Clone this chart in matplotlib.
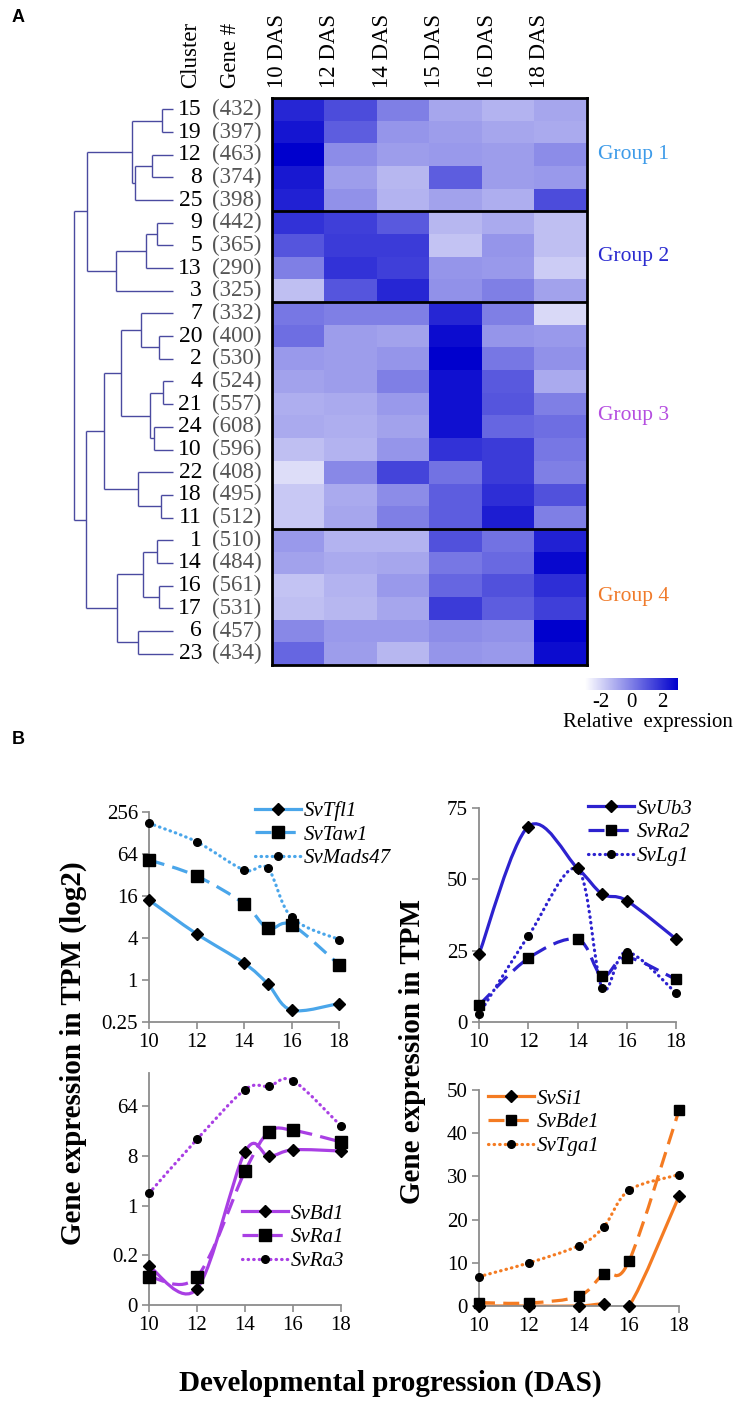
import numpy as np
import matplotlib
matplotlib.use('Agg')
import matplotlib.pyplot as plt
from matplotlib.colors import LinearSegmentedColormap
from matplotlib.path import Path
from matplotlib.patches import PathPatch
from matplotlib.lines import Line2D

plt.rcParams['font.family'] = ['Liberation Serif', 'DejaVu Serif']
plt.rcParams['axes.unicode_minus'] = False

# ---------------- data: panel A ----------------
cluster_ids = [15, 19, 12, 8, 25, 9, 5, 13, 3, 7, 20, 2, 4, 21, 24, 10, 22, 18, 11, 1, 14, 16, 17, 6, 23]
gene_counts = [432, 397, 463, 374, 398, 442, 365, 290, 325, 332, 400, 530, 524, 557, 608, 596,
               408, 495, 512, 510, 484, 561, 531, 457, 434]
timepoints = ['10 DAS', '12 DAS', '14 DAS', '15 DAS', '16 DAS', '18 DAS']
expr = np.array([
    [2.1, 1.2, 0.0, -0.9, -1.2, -0.9],
    [2.5, 0.8, -0.5, -0.7, -0.9, -1.0],
    [3.0, -0.3, -0.7, -0.6, -0.7, -0.3],
    [2.4, -0.7, -1.3, 0.8, -0.7, -0.6],
    [2.2, -0.4, -1.2, -0.8, -1.1, 1.2],
    [1.8, 1.5, 0.9, -1.3, -1.0, -1.5],
    [1.0, 1.6, 1.6, -1.6, -0.5, -1.5],
    [0.0, 1.8, 1.5, -0.5, -0.6, -1.8],
    [-1.5, 1.0, 2.1, -0.4, 0.0, -0.8],
    [0.2, 0.0, 0.0, 2.1, 0.0, -2.1],
    [0.4, -0.7, -0.8, 2.7, -0.5, -0.6],
    [-0.6, -0.7, -0.5, 3.0, 0.2, -0.4],
    [-0.8, -0.7, 0.0, 2.6, 0.9, -1.0],
    [-1.1, -1.0, -0.6, 2.6, 1.0, 0.0],
    [-1.0, -1.1, -0.8, 2.6, 0.6, 0.4],
    [-1.5, -1.2, -0.5, 1.8, 1.6, 0.2],
    [-2.2, -0.2, 1.4, 0.3, 1.6, 0.0],
    [-1.7, -1.0, -0.3, 0.8, 1.9, 1.1],
    [-1.7, -0.9, 0.0, 0.8, 2.3, 0.0],
    [-0.6, -1.2, -1.2, 1.1, 0.3, 2.2],
    [-0.8, -1.0, -0.9, 0.2, 0.5, 2.8],
    [-1.6, -1.2, -0.6, 0.6, 1.1, 1.9],
    [-1.5, -1.3, -0.9, 1.6, 0.8, 1.5],
    [-0.2, -0.6, -0.6, -0.3, -0.4, 3.0],
    [0.6, -0.7, -1.3, -0.5, -0.6, 2.7],
])
group_names = ['Group 1', 'Group 2', 'Group 3', 'Group 4']
group_sizes = [5, 4, 10, 6]
group_colors = ['#3d9be9', '#2b2bd0', '#b54ee0', '#f07b2b']
colorbar_ticks = [-2, 0, 2]

# dendrogram: (merge height, left child, right child); leaves are cluster ids
tree = (99,
        (86,
         (41, (11, 15, 19), (38, (21, 12, 8), 25)),
         (57, (27, (16, 9, 5), 13), 3)),
        (87,
         (69,
          (52, (32, 7, (14, 20, 2)), (23, (10, 4, 21), (19, 24, 10))),
          (35, 22, (12, 18, 11))),
         (56, (30, (16, 1, 14), (14, 16, 17)), (35, 6, 23))))

# ---------------- data: panel B ----------------
das = [10, 12, 14, 15, 16, 18]
tl_names = ['SvTfl1', 'SvTaw1', 'SvMads47']
tl_vals = [[14, 4.6, 1.75, 0.88, 0.37, 0.46],
           [52.7, 31, 12.4, 5.5, 6.2, 1.66],
           [177, 96, 37.8, 40, 7.9, 3.8]]
tr_names = ['SvUb3', 'SvRa2', 'SvLg1']
tr_vals = [[23.8, 68.5, 53.9, 44.9, 42.5, 29.1],
           [5.9, 22.3, 29.0, 16.1, 22.6, 14.9],
           [2.7, 30.1, 53.6, 12.0, 24.6, 10.2]]
bl_names = ['SvBd1', 'SvRa1', 'SvRa3']
bl_vals = [[0.079, 0.031, 9.4, 7.8, 10.3, 9.8],
           [0.051, 0.051, 4.2, 21.7, 23.3, 14.3],
           [1.67, 16, 128, 147, 186, 27.9]]
br_names = ['SvSi1', 'SvBde1', 'SvTga1']
br_vals = [[0, 0, 0, 0.5, 0, 25.4],
           [0.8, 0.7, 2.3, 7.5, 10.4, 45.3],
           [6.8, 10.0, 14.0, 18.4, 26.8, 30.4]]

tl_yticks = [0.25, 1, 4, 16, 64, 256]
tl_ylabels = ['0.25', '1', '4', '16', '64', '256']
bl_yticks = [2**-6, 2**-3, 1, 8, 64]
bl_ylabels = ['0', '0.2', '1', '8', '64']
tr_yticks = [0, 25, 50, 75]
br_yticks = [0, 10, 20, 30, 40, 50]
x_ticks = [10, 12, 14, 16, 18]

# ---------------- figure ----------------
W, H = 736, 1405
fig = plt.figure(figsize=(W / 100, H / 100), dpi=100)


def px_axes(l, t, r, b):
    return fig.add_axes([l / W, 1 - b / H, (r - l) / W, (b - t) / H])


# heatmap
HM_L, HM_T, HM_R, HM_B = 272, 98, 587, 665
ax_hm = px_axes(HM_L, HM_T, HM_R, HM_B)
cmap = LinearSegmentedColormap.from_list('wb', ['#ffffff', '#0000cd'])
im = ax_hm.imshow(expr, cmap=cmap, vmin=-3, vmax=3, aspect='auto', interpolation='nearest')
ax_hm.set_xticks([])
ax_hm.set_yticks([])
for s in ax_hm.spines.values():
    s.set_linewidth(2)
    s.set_color('black')
bounds = np.cumsum(group_sizes)
for b in bounds[:-1]:
    ax_hm.axhline(b - 0.5, color='black', lw=2)

ytr = ax_hm.get_yaxis_transform()
xtr = ax_hm.get_xaxis_transform()
hm_w = HM_R - HM_L
for i, (cid, gc) in enumerate(zip(cluster_ids, gene_counts)):
    ax_hm.text((202 - HM_L) / hm_w, i, str(cid), transform=ytr, ha='right', va='center',
               fontsize=17, color='black')
    ax_hm.text((212 - HM_L) / hm_w, i, '(%d)' % gc, transform=ytr, ha='left', va='center',
               fontsize=16.5, color='#555555')

starts = np.concatenate([[0], bounds[:-1]])
for name, st, sz, col in zip(group_names, starts, group_sizes, group_colors):
    ax_hm.text((598 - HM_L) / hm_w, st + sz / 2 - 0.5, name, transform=ytr, ha='left',
               va='center', fontsize=15.5, color=col)

ylab = 1 + (HM_T - 88) / (HM_B - HM_T)
for i, t in enumerate(timepoints):
    ax_hm.text(i - 0.4, ylab, t, transform=xtr, rotation=90, ha='center', va='bottom', fontsize=16.5)
ax_hm.text((191 - HM_L) / hm_w, ylab, 'Cluster', transform=ax_hm.transAxes, rotation=90,
           ha='center', va='bottom', fontsize=16.5)
ax_hm.text((230 - HM_L) / hm_w, ylab, 'Gene #', transform=ax_hm.transAxes, rotation=90,
           ha='center', va='bottom', fontsize=16.5)

# dendrogram
ax_dn = px_axes(73, HM_T, 173, HM_B)
ax_dn.set_xlim(100, 0)
ax_dn.set_ylim(len(cluster_ids) - 0.5, -0.5)
ax_dn.axis('off')
dcol = '#4a4aa0'
pos = {c: i for i, c in enumerate(cluster_ids)}


def draw(node):
    if not isinstance(node, tuple):
        return pos[node], 0
    h, a, b = node
    ya, ha = draw(a)
    yb, hb = draw(b)
    kw = dict(color=dcol, lw=1.0, clip_on=False, solid_capstyle='butt')
    ax_dn.plot([ha, h], [ya, ya], **kw)
    ax_dn.plot([hb, h], [yb, yb], **kw)
    ax_dn.plot([h, h], [ya, yb], **kw)
    return (ya + yb) / 2, h


draw(tree)

# colorbar
cax = px_axes(585, 678, 678, 690)
cb = fig.colorbar(im, cax=cax, orientation='horizontal', ticks=colorbar_ticks)
cb.outline.set_visible(False)
cax.tick_params(length=0, labelsize=15, pad=2)
fig.text(648 / W, 1 - 722 / H, 'Relative  expression', ha='center', va='center', fontsize=15)

fig.text(12 / W, 1 - 18 / H, 'A', fontsize=13, fontweight='bold', family='Liberation Sans',
         ha='left', va='center')
fig.text(12 / W, 1 - 740 / H, 'B', fontsize=13, fontweight='bold', family='Liberation Sans',
         ha='left', va='center')


# ---------------- panel B ----------------
def smooth_path(xs, ys, logy=False):
    X = np.asarray(xs, float)
    Y = np.log2(np.asarray(ys, float)) if logy else np.asarray(ys, float)
    P = np.column_stack([X, Y])
    n = len(P)
    verts = [P[0]]
    codes = [Path.MOVETO]
    for i in range(n - 1):
        p0 = P[i - 1] if i > 0 else P[i]
        p1, p2 = P[i], P[i + 1]
        p3 = P[i + 2] if i + 2 < n else P[i + 1]
        verts += [p1 + (p2 - p0) / 6, p2 - (p3 - p1) / 6, p2]
        codes += [Path.CURVE4] * 3
    V = np.array(verts)
    if logy:
        V[:, 1] = 2 ** V[:, 1]
    return Path(V, codes)


styles = ['-', (0, (5, 2.6)), (0, (0.15, 1.6))]
markers = ['D', 's', 'o']


def style_axes(ax):
    for s in ['top', 'right']:
        ax.spines[s].set_visible(False)
    for s in ['left', 'bottom']:
        ax.spines[s].set_color('#8c8c8c')
        ax.spines[s].set_linewidth(1.3)
    ax.tick_params(direction='out', length=5, width=1.2, color='#8c8c8c', labelsize=15, pad=3)
    ax.minorticks_off()
    ax.set_xlim(10, 18)
    ax.set_xticks(x_ticks)
    ax.set_xticklabels([str(x) for x in x_ticks])


def draw_series(ax, names, vals, color, logy, sq_size, leg_xy):
    handles = []
    for k, (nm, v) in enumerate(zip(names, vals)):
        p = PathPatch(smooth_path(das, v, logy), fill=False, edgecolor=color, lw=2.3,
                      linestyle=styles[k], capstyle='round' if k == 2 else 'butt')
        ax.add_patch(p)
        ms = [6, sq_size, 5.5][k]
        ax.plot(das, v, ls='none', marker=markers[k], ms=ms, color='black', clip_on=False, zorder=5)
        handles.append(Line2D([], [], color=color, lw=2.3, ls=styles[k],
                              dash_capstyle='round' if k == 2 else 'butt',
                              marker=markers[k], ms=ms, mfc='black', mec='black'))
    fig.legend(handles, names, loc='upper left', bbox_to_anchor=(leg_xy[0] / W, 1 - leg_xy[1] / H),
               frameon=False, borderpad=0, borderaxespad=0, handlelength=2.2, handletextpad=0.15,
               labelspacing=0.2, prop={'style': 'italic', 'size': 15, 'family': 'Liberation Serif'})


axTL = px_axes(149, 812, 339, 1022)
axTL.set_yscale('log', base=2)
style_axes(axTL)
axTL.set_ylim(0.25, 256)
axTL.set_yticks(tl_yticks)
axTL.set_yticklabels(tl_ylabels)
axTL.minorticks_off()
draw_series(axTL, tl_names, tl_vals, '#4aa6ea', True, 8, (255, 801))

axTR = px_axes(479, 808, 676, 1022)
style_axes(axTR)
axTR.set_ylim(0, 75)
axTR.set_yticks(tr_yticks)
draw_series(axTR, tr_names, tr_vals, '#2d22cf', False, 6.5, (588, 799))

axBL = px_axes(149, 1073, 341, 1305)
axBL.set_yscale('log', base=2)
style_axes(axBL)
axBL.set_ylim(2 ** -6, 2 ** 8)
axBL.set_yticks(bl_yticks)
axBL.set_yticklabels(bl_ylabels)
axBL.minorticks_off()
draw_series(axBL, bl_names, bl_vals, '#a93fe4', True, 8, (242, 1204))

axBR = px_axes(479, 1090, 679, 1306)
style_axes(axBR)
axBR.set_ylim(0, 50)
axBR.set_yticks(br_yticks)
draw_series(axBR, br_names, br_vals, '#f47b22', False, 6.5, (488, 1089))

fig.text(73 / W, 1 - 1053 / H, 'Gene expression in TPM (log2)', rotation=90, ha='center',
         va='center', fontsize=21, fontweight='bold')
fig.text(412 / W, 1 - 1052 / H, 'Gene expression in TPM', rotation=90, ha='center',
         va='center', fontsize=21, fontweight='bold')
fig.text(390 / W, 1 - 1383 / H, 'Developmental progression (DAS)', ha='center', va='center',
         fontsize=21, fontweight='bold')

fig.savefig('out.png', dpi=100)
